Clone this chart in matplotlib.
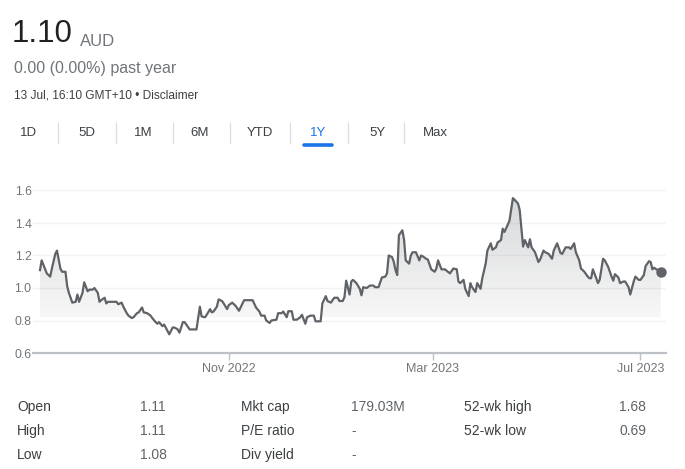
import numpy as np
import pandas as pd
import matplotlib
matplotlib.use("Agg")
import matplotlib.pyplot as plt
import matplotlib.dates as mdates
from matplotlib.patches import Polygon

plt.rcParams['font.family'] = ['Liberation Sans', 'DejaVu Sans']

# ---------------- data ----------------
start_date = "2022-07-13"
day_offsets = [0, 1, 4, 6, 7, 9, 10, 12, 13, 15, 16, 17, 19, 21, 22, 23, 25, 26, 28, 29,
               31, 32, 34, 35, 36, 38, 39, 40, 43, 45, 46, 48, 49, 51, 52, 54, 55, 57, 58, 60,
               61, 63, 65, 66, 68, 69, 70, 72, 73, 74, 76, 78, 79, 81, 82, 84, 85, 87, 88, 92,
               94, 95, 97, 98, 100, 101, 102, 104, 105, 107, 108, 110, 111, 113, 115, 117, 120, 125, 127, 129,
               130, 132, 133, 135, 136, 139, 140, 142, 143, 145, 146, 148, 149, 151, 153, 154, 156, 157, 159, 161,
               162, 165, 166, 168, 169, 171, 173, 175, 176, 178, 179, 180, 182, 183, 184, 186, 188, 189, 190, 192,
               194, 196, 197, 199, 201, 203, 204, 205, 207, 208, 209, 210, 211, 213, 214, 215, 217, 218, 219, 221,
               223, 224, 225, 227, 228, 230, 232, 233, 234, 236, 238, 241, 243, 245, 246, 247, 249, 250, 252, 253,
               254, 256, 257, 259, 260, 262, 263, 265, 266, 268, 269, 271, 272, 273, 275, 276, 278, 279, 281, 282,
               284, 285, 287, 288, 289, 291, 293, 294, 296, 297, 299, 301, 302, 304, 306, 307, 309, 311, 312, 314,
               315, 317, 318, 320, 322, 323, 324, 325, 327, 328, 329, 331, 332, 334, 336, 337, 338, 340, 341, 343,
               344, 346, 347, 349, 350, 352, 353, 355, 356, 358, 359, 360, 361, 363, 364, 365]
prices = [1.11, 1.17, 1.09, 1.07, 1.12, 1.21, 1.23, 1.12, 1.10, 1.10, 1.01, 0.97, 0.91, 0.915, 0.96, 0.915, 0.97, 1.035, 0.98, 0.99,
          0.99, 1.00, 0.97, 0.915, 0.925, 0.94, 0.905, 0.915, 0.915, 0.915, 0.90, 0.91, 0.885, 0.845, 0.83, 0.815, 0.82, 0.845, 0.85, 0.88,
          0.85, 0.845, 0.83, 0.815, 0.79, 0.78, 0.79, 0.765, 0.775, 0.755, 0.715, 0.757, 0.757, 0.745, 0.725, 0.79, 0.79, 0.76, 0.745, 0.745,
          0.885, 0.825, 0.82, 0.835, 0.87, 0.85, 0.855, 0.885, 0.93, 0.92, 0.905, 0.87, 0.895, 0.91, 0.89, 0.86, 0.925, 0.925, 0.88, 0.855,
          0.83, 0.83, 0.80, 0.785, 0.80, 0.805, 0.845, 0.845, 0.855, 0.82, 0.857, 0.857, 0.805, 0.805, 0.82, 0.835, 0.78, 0.82, 0.83, 0.83,
          0.795, 0.795, 0.905, 0.95, 0.92, 0.91, 0.94, 0.94, 0.92, 0.92, 0.945, 1.045, 0.96, 1.04, 1.05, 1.03, 0.995, 0.955, 1.005, 1.00,
          1.015, 1.015, 1.005, 1.005, 1.065, 1.07, 1.09, 1.20, 1.19, 1.16, 1.11, 1.08, 1.325, 1.355, 1.30, 1.17, 1.15, 1.20, 1.22, 1.22,
          1.17, 1.20, 1.195, 1.18, 1.175, 1.115, 1.10, 1.12, 1.17, 1.115, 1.115, 1.09, 1.12, 1.115, 1.04, 1.03, 1.05, 0.995, 0.95, 1.03,
          1.005, 0.975, 1.03, 0.995, 1.06, 1.15, 1.23, 1.275, 1.235, 1.25, 1.28, 1.295, 1.365, 1.345, 1.39, 1.415, 1.553, 1.543, 1.52, 1.48,
          1.255, 1.295, 1.25, 1.30, 1.25, 1.22, 1.16, 1.175, 1.23, 1.22, 1.21, 1.18, 1.23, 1.275, 1.215, 1.21, 1.25, 1.25, 1.24, 1.275,
          1.22, 1.17, 1.12, 1.10, 1.07, 1.06, 1.06, 1.115, 1.06, 1.03, 1.05, 1.18, 1.17, 1.13, 1.07, 1.045, 1.085, 1.065, 1.03, 1.04,
          1.04, 1.005, 0.96, 1.04, 1.07, 1.05, 1.05, 1.08, 1.135, 1.165, 1.16, 1.115, 1.125, 1.11, 1.115, 1.10]

y_ticks = [0.6, 0.8, 1.0, 1.2, 1.4, 1.6]
x_tick_dates = ["2022-11-01", "2023-03-01", "2023-07-01"]
x_tick_labels = ["Nov 2022", "Mar 2023", "Jul 2023"]

price_text = "1.10"
currency = "AUD"
change_text = "0.00 (0.00%) past year"
stamp_text = "13 Jul, 16:10 GMT+10 \u2022 Disclaimer"
tabs = ["1D", "5D", "1M", "6M", "YTD", "1Y", "5Y", "Max"]
selected_tab = "1Y"

stat_labels_1 = ["Open", "High", "Low"]
stat_values_1 = ["1.11", "1.11", "1.08"]
stat_labels_2 = ["Mkt cap", "P/E ratio", "Div yield"]
stat_values_2 = ["179.03M", "-", "-"]
stat_labels_3 = ["52-wk high", "52-wk low"]
stat_values_3 = ["1.68", "0.69"]

# ---------------- figure ----------------
W, H = 685, 469
fig = plt.figure(figsize=(W / 100, H / 100), dpi=100)
fig.patch.set_facecolor("white")


def fx(px):
    return px / W


def fy(py):
    return 1 - py / H


DARK = "#202124"
GREY = "#70757a"
LINE = "#5f6368"

# header
fig.text(fx(12), fy(34), price_text, fontsize=22.5, color=DARK, va="center", ha="left")
fig.text(fx(80), fy(41), currency, fontsize=12, color=GREY, va="center", ha="left")
fig.text(fx(14), fy(68), change_text, fontsize=11.5, color=GREY, va="center", ha="left")
fig.text(fx(14), fy(95), stamp_text, fontsize=8.6, color="#3c4043", va="center", ha="left")

# tabs
tab_centers = [29, 87, 143, 200, 260, 318, 377, 435]
sep_x = [58, 116, 173, 230, 290, 348, 404]
for name, cx in zip(tabs, tab_centers):
    fig.text(fx(cx), fy(133), name, fontsize=9.5,
             color=("#1a73e8" if name == selected_tab else "#3c4043"),
             va="center", ha="center")
for sx in sep_x:
    fig.add_artist(plt.Line2D([fx(sx), fx(sx)], [fy(123), fy(143)],
                              color="#dadce0", lw=0.9))
sel_i = tabs.index(selected_tab)
fig.add_artist(plt.Line2D([fx(tab_centers[sel_i] - 14), fx(tab_centers[sel_i] + 14)],
                          [fy(145.5), fy(145.5)], color="#1a73e8", lw=2.6,
                          solid_capstyle="round"))

# chart
ax_l, ax_r, ax_t, ax_b = 33, 666, 190.5, 353
ax = fig.add_axes([fx(ax_l), fy(ax_b), fx(ax_r - ax_l), (ax_b - ax_t) / H])
dates = pd.Timestamp(start_date) + pd.to_timedelta(day_offsets, unit="D")
xn = mdates.date2num(dates.to_pydatetime())
yv = np.array(prices)

ax.set_xlim(xn[0] - 4.1, xn[-1] + 3.0)
ax.set_ylim(y_ticks[0], y_ticks[-1])

for t in y_ticks[1:]:
    ax.axhline(t, color="#f1f3f4", lw=1.0, zorder=0)

# gradient fill under the line
poly_xy = np.vstack([np.column_stack([xn, yv]),
                     [[xn[-1], y_ticks[0]], [xn[0], y_ticks[0]]]])
poly = Polygon(poly_xy, closed=True, facecolor="none", edgecolor="none")
ax.add_patch(poly)
n = 400
yy = np.linspace(y_ticks[-1], y_ticks[0], n)
alpha = np.where(yy > 0.82, 0.05 + 0.20 * (yy - 0.82) / 0.73, 0.0)
alpha = np.clip(alpha, 0, 0.3)
img = np.zeros((n, 1, 4))
img[:, 0, 0] = 0.37
img[:, 0, 1] = 0.39
img[:, 0, 2] = 0.41
img[:, 0, 3] = alpha
im = ax.imshow(img, extent=[xn[0], xn[-1], y_ticks[0], y_ticks[-1]],
               aspect="auto", origin="upper", zorder=1, interpolation="bilinear")
im.set_clip_path(poly)

ax.plot(xn, yv, color=LINE, lw=1.6, zorder=3, solid_joinstyle="round")
ax.plot([xn[-1]], [yv[-1]], "o", color=LINE, ms=6.5, zorder=4)

for s in ["top", "right", "left"]:
    ax.spines[s].set_visible(False)
ax.spines["bottom"].set_color("#bdc1c6")
ax.spines["bottom"].set_linewidth(1.6)

ax.set_yticks(y_ticks)
ax.set_yticklabels([f"{t:.1f}" for t in y_ticks])
ax.tick_params(axis="y", length=0, pad=1, labelsize=8.8, labelcolor=GREY)
ax.set_xticks(mdates.date2num(pd.to_datetime(x_tick_dates).to_pydatetime()))
ax.set_xticklabels(x_tick_labels)
ax.tick_params(axis="x", length=5, width=1, color="#bdc1c6", pad=2,
               labelsize=9, labelcolor=GREY)
ax.set_facecolor("none")

# stats table
rows_y = [407, 431, 455]
for i, (l, v) in enumerate(zip(stat_labels_1, stat_values_1)):
    fig.text(fx(17), fy(rows_y[i]), l, fontsize=10, color="#3c4043", va="center")
    fig.text(fx(140), fy(rows_y[i]), v, fontsize=10, color="#5f6368", va="center")
for i, (l, v) in enumerate(zip(stat_labels_2, stat_values_2)):
    fig.text(fx(241), fy(rows_y[i]), l, fontsize=10, color="#3c4043", va="center")
    fig.text(fx(351), fy(rows_y[i]), v, fontsize=10, color="#5f6368", va="center")
for i, (l, v) in enumerate(zip(stat_labels_3, stat_values_3)):
    fig.text(fx(464), fy(rows_y[i]), l, fontsize=10, color="#3c4043", va="center")
    fig.text(fx(646), fy(rows_y[i]), v, fontsize=10, color="#5f6368", va="center", ha="right")

fig.savefig("out.png", dpi=100, facecolor="white")
